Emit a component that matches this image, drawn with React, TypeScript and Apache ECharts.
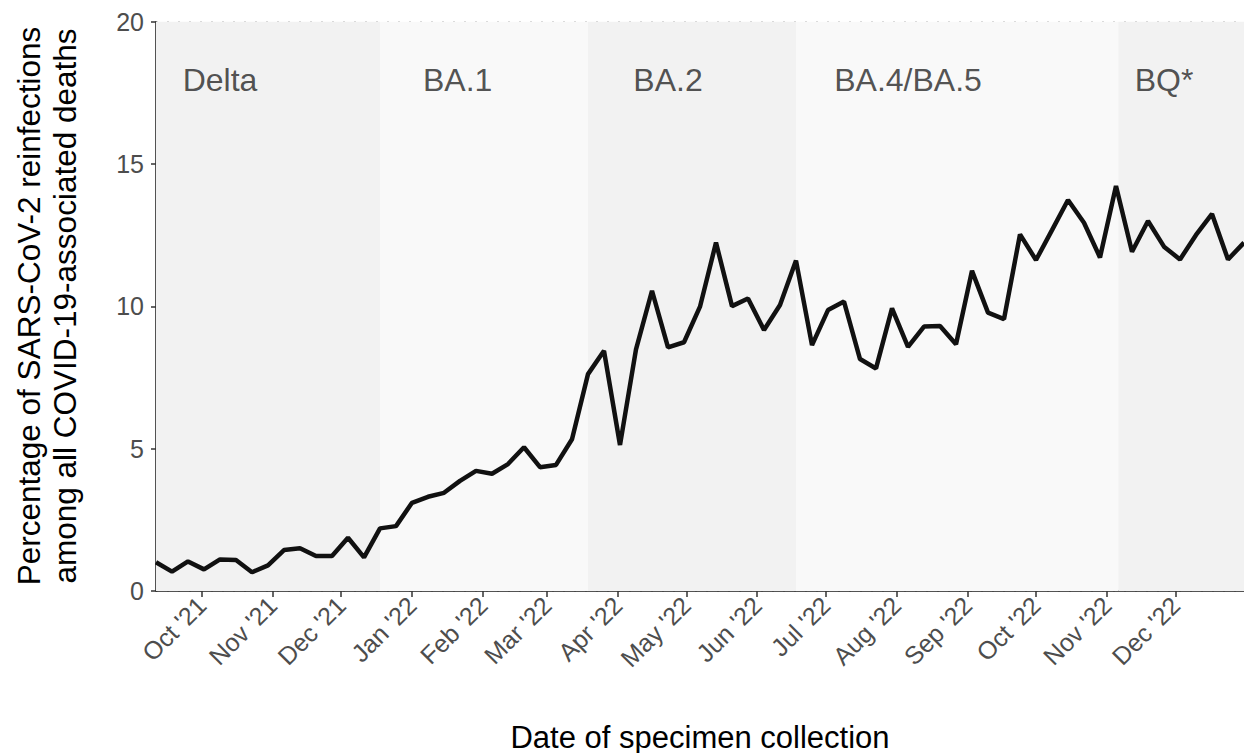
import React, { useEffect, useRef } from "react";
import * as echarts from "echarts";

// Weekly points (week ending Saturday), first week ending 2021-09-11
const startYear = 2021;
const startMonth = 8; // September (0-based)
const startDay = 11;

const values: number[] = [
  1.01, 0.68, 1.04, 0.76, 1.11, 1.09, 0.66, 0.9, 1.44, 1.5,
  1.23, 1.23, 1.87, 1.18, 2.2, 2.28, 3.1, 3.31, 3.45, 3.87,
  4.22, 4.12, 4.46, 5.05, 4.35, 4.43, 5.33, 7.62, 8.44, 5.13,
  8.49, 10.55, 8.56, 8.74, 9.99, 12.24, 10.01, 10.28, 9.17, 10.05,
  11.61, 8.64, 9.87, 10.17, 8.15, 7.82, 9.93, 8.58, 9.29, 9.31,
  8.67, 11.25, 9.78, 9.55, 12.53, 11.63, 12.68, 13.74, 12.94, 11.72,
  14.23, 11.92, 13.0, 12.1, 11.65, 12.51, 13.25, 11.65, 12.24,
];

const weekDates: number[] = values.map((_, k) =>
  new Date(startYear, startMonth, startDay + 7 * k).getTime()
);

const variantNames = ["Delta", "BA.1", "BA.2", "BA.4/BA.5", "BQ*"];
const variantStarts = ["2021-09-11", "2021-12-18", "2022-03-19", "2022-06-18", "2022-11-06"];
const variantEnds = ["2021-12-18", "2022-03-19", "2022-06-18", "2022-11-06", "2022-12-31"];
const variantColors = ["#f2f2f2", "#f9f9f9", "#f2f2f2", "#f9f9f9", "#f2f2f2"];
const variantLabelDates = ["2021-10-09", "2022-01-21", "2022-04-23", "2022-08-06", "2022-11-26"];
const variantLabelY = 17.95;

const monthNames = ["Jan", "Feb", "Mar", "Apr", "May", "Jun", "Jul", "Aug", "Sep", "Oct", "Nov", "Dec"];

const yTicks = [0, 5, 10, 15, 20];

function toTime(s: string): number {
  const [y, m, d] = s.split("-").map(Number);
  return new Date(y, m - 1, d).getTime();
}

const FONT = "'Liberation Sans', Arial, Helvetica, sans-serif";

export default function App() {
  const ref = useRef<HTMLDivElement>(null);

  useEffect(() => {
    if (!ref.current) return;
    const chart = echarts.init(ref.current, undefined, { renderer: "svg" });
    const day = 86400000;
    const option: any = {
      animation: false,
      backgroundColor: "#ffffff",
      textStyle: { fontFamily: FONT },
      grid: { left: 156, right: 0, top: 21.8, bottom: 162, containLabel: false },
      xAxis: {
        type: "time",
        min: toTime(variantStarts[0]),
        max: toTime(variantEnds[variantEnds.length - 1]),
        minInterval: 28 * day,
        maxInterval: 31 * day,
        axisLine: { show: true, lineStyle: { color: "#1a1a1a", width: 1.5 } },
        axisTick: { show: true, length: 6, lineStyle: { color: "#333333", width: 1.5 } },
        splitLine: { show: false },
        axisLabel: {
          rotate: 45,
          fontSize: 25,
          color: "#4d4d4d",
          fontFamily: FONT,
          margin: 10,
          showMinLabel: false,
          showMaxLabel: false,
          formatter: (v: number) => {
            const d = new Date(v);
            return monthNames[d.getMonth()] + " '" + String(d.getFullYear()).slice(2);
          },
        },
      },
      yAxis: {
        type: "value",
        min: 0,
        max: 20,
        interval: 5,
        axisLine: { show: true, lineStyle: { color: "#1a1a1a", width: 1.5 } },
        axisTick: { show: true, length: 5, lineStyle: { color: "#333333", width: 1.5 } },
        axisLabel: {
          fontSize: 25,
          color: "#4d4d4d",
          fontFamily: FONT,
          margin: 12,
          formatter: (v: number) => (yTicks.includes(v) ? String(v) : ""),
        },
        splitLine: {
          show: true,
          lineStyle: { color: "#d0d0d0", width: 2, type: [2, 9] },
        },
      },
      series: [
        {
          type: "line",
          data: weekDates.map((t, i) => [t, values[i]]),
          symbol: "none",
          lineStyle: { color: "#111111", width: 4.5 },
          z: 5,
          markArea: {
            silent: true,
            itemStyle: { opacity: 1 },
            data: variantNames.map((n, i) => [
              { xAxis: toTime(variantStarts[i]), itemStyle: { color: variantColors[i] } },
              { xAxis: toTime(variantEnds[i]) },
            ]),
          },
        },
        {
          type: "scatter",
          symbolSize: 0,
          silent: true,
          z: 6,
          data: variantNames.map((n, i) => ({ value: [toTime(variantLabelDates[i]), variantLabelY], name: n })),
          label: {
            show: true,
            position: "inside",
            formatter: (p: any) => p.name,
            fontSize: 32,
            color: "#262626",
            fontFamily: FONT,
          },
        },
      ],
      graphic: [
        {
          type: "text",
          x: 700,
          y: 737,
          style: {
            text: "Date of specimen collection",
            fontSize: 31,
            fontFamily: FONT,
            fill: "#000000",
            align: "center",
            verticalAlign: "middle",
          },
        },
        {
          type: "text",
          x: 47,
          y: 306,
          rotation: Math.PI / 2,
          style: {
            text: "Percentage of SARS-CoV-2 reinfections\namong all COVID-19-associated deaths",
            fontSize: 31.5,
            lineHeight: 36,
            fontFamily: FONT,
            fill: "#000000",
            align: "center",
            verticalAlign: "middle",
          },
        },
      ],
    };
    chart.setOption(option);
    return () => chart.dispose();
  }, []);

  return (
    <div
      ref={ref}
      style={{ position: "fixed", left: 0, top: 0, width: 1244, height: 753 }}
    />
  );
}
